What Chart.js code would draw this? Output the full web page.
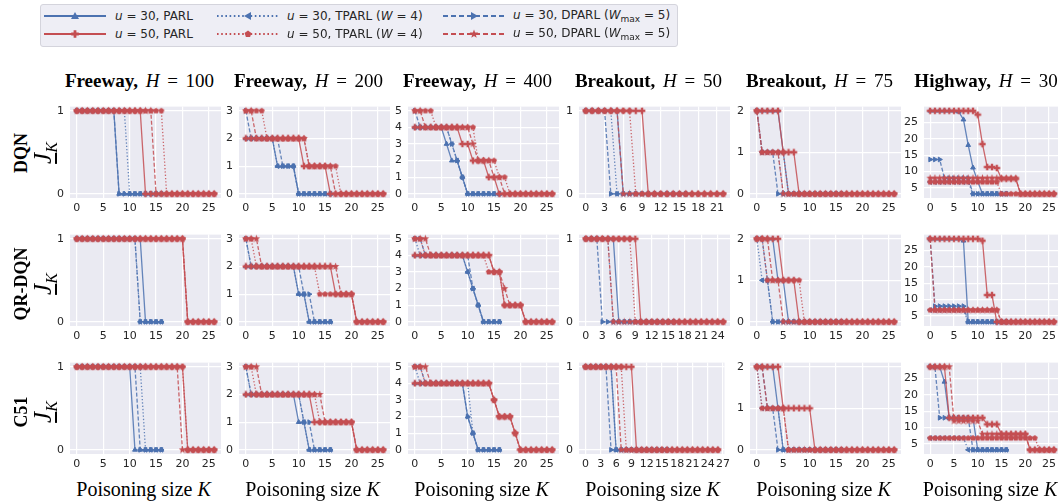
<!DOCTYPE html>
<html>
<head>
<meta charset="utf-8">
<script src="https://cdn.jsdelivr.net/npm/chart.js@4.4.1/dist/chart.umd.min.js"></script>
<style>
  body { margin: 0; background: #fff; }
  #fig { position: relative; width: 1058px; height: 501px; overflow: hidden; }
  #fig canvas { position: absolute; }
  .title, .xlabel { position: absolute; font-family: "Liberation Serif", serif; color: #000; white-space: nowrap; transform: translateX(-50%); }
  .title { top: 70px; font-size: 19px; word-spacing: 3px; }
  .title b { font-weight: bold; }
  .xlabel { top: 478px; font-size: 20px; }
  .rowlab { position: absolute; font-family: "Liberation Serif", serif; white-space: nowrap; transform: translate(-50%, -50%) rotate(-90deg); }
  .rowlab.alg { font-size: 18px; font-weight: bold; }
  .rowlab.jk { font-size: 25px; font-style: italic; }
  .rowlab.jk sub { font-size: 16px; }
  .legend { position: absolute; left: 40px; top: 4px; width: 636px; height: 41px; border: 1px solid #d4d4dc; border-radius: 3px; background: #eeeef5; }
  .legend .item { position: absolute; font-family: "DejaVu Sans", sans-serif; font-size: 12px; color: #262626; white-space: nowrap; transform: translateY(-50%); }
  .legend svg { position: absolute; }
  .legend sub { font-size: 9px; }
</style>
</head>
<body>
<div id="fig"></div>
<script>
// row / column categories
const algorithms = ["DQN", "QR-DQN", "C51"];
const games = ["Freeway", "Freeway", "Freeway", "Breakout", "Breakout", "Highway"];
const horizons = [100, 200, 400, 50, 75, 30];
const seriesLabels = [
  "u = 30, PARL", "u = 30, TPARL (W = 4)", "u = 30, DPARL (Wmax = 5)",
  "u = 50, PARL", "u = 50, TPARL (W = 4)", "u = 50, DPARL (Wmax = 5)"
];

// tick labels
const xTicksK = [0, 5, 10, 15, 20, 25];
const xTicksBo50Dqn = [0, 3, 6, 9, 12, 15, 18, 21];
const xTicksBo50Qr = [0, 3, 6, 9, 12, 15, 18, 21, 24];
const xTicksBo50C51 = [0, 3, 6, 9, 12, 15, 18, 21, 24, 27];
const yTicksFw100 = [0, 1];
const yTicksFw200 = [0, 1, 2, 3];
const yTicksFw400 = [0, 1, 2, 3, 4, 5];
const yTicksBo50 = [0, 1];
const yTicksBo75 = [0, 1, 2];
const yTicksHw = [5, 10, 15, 20, 25];

// J_K against poisoning size K = 0,1,2,...
// order in every panel: u30 PARL, u30 TPARL, u30 DPARL, u50 PARL, u50 TPARL, u50 DPARL
const dqnFw100 = [
  [1,1,1,1,1,1,1,1,0,0,0,0,0,0,0,0,0],
  [1,1,1,1,1,1,1,1,1,1,0,0,0,0,0,0,0],
  [1,1,1,1,1,1,1,1,0,0,0,0,0,0,0,0,0],
  [1,1,1,1,1,1,1,1,1,1,1,1,1,0,0,0,0,0,0,0,0,0,0,0,0,0,0],
  [1,1,1,1,1,1,1,1,1,1,1,1,1,1,1,1,1,0,0,0,0,0,0,0,0,0,0],
  [1,1,1,1,1,1,1,1,1,1,1,1,1,1,1,0,0,0,0,0,0,0,0,0,0,0,0]
];
const dqnFw200 = [
  [2,2,2,2,2,2,1,1,1,1,0,0,0,0,0,0,0],
  [2,2,2,2,2,2,1,1,1,1,0,0,0,0,0,0,0],
  [3,2,2,2,2,2,2,1,1,1,0,0,0,0,0,0,0],
  [2,2,2,2,2,2,2,2,2,2,2,1,1,1,1,1,0,0,0,0,0,0,0,0,0,0,0],
  [3,3,3,3,2,2,2,2,2,2,2,2,1,1,1,1,1,1,0,0,0,0,0,0,0,0,0],
  [3,3,2,2,2,2,2,2,2,2,2,2,1,1,1,1,1,0,0,0,0,0,0,0,0,0,0]
];
const dqnFw400 = [
  [4,4,4,4,4,4,3,2,2,1,0,0,0,0,0,0,0],
  [4,4,4,4,4,4,4,3,2,1,0,0,0,0,0,0,0],
  [5,4,4,4,4,4,4,3,2,1,0,0,0,0,0,0,0],
  [4,4,4,4,4,4,4,4,4,3,3,2,2,2,1,1,0,0,0,0,0,0,0,0,0,0,0],
  [5,5,5,5,4,4,4,4,4,4,4,4,2,2,2,2,1,1,0,0,0,0,0,0,0,0,0],
  [5,5,4,4,4,4,4,4,4,4,4,3,2,2,2,1,1,0,0,0,0,0,0,0,0,0,0]
];
const dqnBo50 = [
  [1,1,1,1,1,1,0,0,0,0,0,0,0,0,0,0,0],
  [1,1,1,1,1,0,0,0,0,0,0,0,0,0,0,0,0],
  [1,1,1,1,0,0,0,0,0,0,0,0,0,0,0,0,0],
  [1,1,1,1,1,1,1,1,1,1,0,0,0,0,0,0,0,0,0,0,0,0,0],
  [1,1,1,1,1,1,1,1,0,0,0,0,0,0,0,0,0,0,0,0,0,0,0],
  [1,1,1,1,1,1,0,0,0,0,0,0,0,0,0,0,0,0,0,0,0,0,0]
];
const dqnBo75 = [
  [2,2,2,2,2,1,0,0,0,0,0,0,0,0,0,0,0],
  [2,1,1,1,1,0,0,0,0,0,0,0,0,0,0,0,0],
  [2,1,1,1,0,0,0,0,0,0,0,0,0,0,0,0,0],
  [2,2,2,2,2,1,1,1,0,0,0,0,0,0,0,0,0,0,0,0,0,0,0,0,0,0,0],
  [2,1,1,1,1,1,0,0,0,0,0,0,0,0,0,0,0,0,0,0,0,0,0,0,0,0,0],
  [2,1,1,1,1,0,0,0,0,0,0,0,0,0,0,0,0,0,0,0,0,0,0,0,0,0,0]
];
const dqnHw = [
  [28.6,28.6,28.6,28.6,28.6,28.6,28.3,25.9,18.1,11.2,7,3.2,3.2,3.2,3.2,3.2,3.2],
  [6.8,6.8,6.8,6.8,6.8,6.8,6.8,6.8,6.8,3.2,3.2,3.2,3.2,3.2,3.2,3.2,3.2],
  [13.7,13.7,13.7,8,8,8,8,8,8,3.2,3.2,3.2,3.2,3.2,3.2,3.2,3.2],
  [28.6,28.6,28.6,28.6,28.6,28.6,28.6,28.6,28.6,28.6,27.4,18.4,11.4,11.4,11.1,7.8,7.8,7.8,7.8,3.2,3.2,3.2,3.2,3.2,3.2,3.2,3.2],
  [6.8,6.8,6.8,6.8,6.8,6.8,6.8,6.8,6.8,6.8,6.8,6.8,6.8,6.8,6.8,3.2,3.2,3.2,3.2,3.2,3.2,3.2,3.2,3.2,3.2,3.2,3.2],
  [8,8,8,8,8,8,8,8,8,8,8,8,8,8,8,8,8,8,8,3.2,3.2,3.2,3.2,3.2,3.2,3.2,3.2]
];

const qrFw100 = [
  [1,1,1,1,1,1,1,1,1,1,1,1,1,0,0,0,0],
  [1,1,1,1,1,1,1,1,1,1,1,1,0,0,0,0,0],
  [1,1,1,1,1,1,1,1,1,1,1,1,0,0,0,0,0],
  [1,1,1,1,1,1,1,1,1,1,1,1,1,1,1,1,1,1,1,1,1,0,0,0,0,0,0],
  [1,1,1,1,1,1,1,1,1,1,1,1,1,1,1,1,1,1,1,1,1,0,0,0,0,0,0],
  [1,1,1,1,1,1,1,1,1,1,1,1,1,1,1,1,1,1,1,1,1,0,0,0,0,0,0]
];
const qrFw200 = [
  [2,2,2,2,2,2,2,2,2,2,1,1,0,0,0,0,0],
  [3,2,2,2,2,2,2,2,2,2,1,1,0,0,0,0,0],
  [3,2,2,2,2,2,2,2,2,2,2,1,1,0,0,0,0],
  [2,2,2,2,2,2,2,2,2,2,2,2,2,2,2,2,2,1,1,1,1,0,0,0,0,0,0],
  [3,3,2,2,2,2,2,2,2,2,2,2,2,2,1,1,1,1,1,1,1,0,0,0,0,0,0],
  [3,3,3,2,2,2,2,2,2,2,2,2,2,2,2,2,2,2,1,1,1,0,0,0,0,0,0]
];
const qrFw400 = [
  [4,4,4,4,4,4,4,4,4,4,3,2,1,0,0,0,0],
  [5,4,4,4,4,4,4,4,4,4,3,2,1,0,0,0,0],
  [5,5,4,4,4,4,4,4,4,4,4,2,1,0,0,0,0],
  [4,4,4,4,4,4,4,4,4,4,4,4,4,4,4,3,3,1,1,1,1,0,0,0,0,0,0],
  [5,5,4,4,4,4,4,4,4,4,4,4,4,4,3,3,3,1,1,1,1,0,0,0,0,0,0],
  [5,5,5,4,4,4,4,4,4,4,4,4,4,4,4,3,3,2,1,1,1,0,0,0,0,0,0]
];
const qrBo50 = [
  [1,1,1,1,1,1,0,0,0,0,0,0,0,0,0,0,0],
  [1,1,1,1,1,0,0,0,0,0,0,0,0,0,0,0,0],
  [1,1,1,0,0,0,0,0,0,0,0,0,0,0,0,0,0],
  [1,1,1,1,1,1,1,1,1,1,0,0,0,0,0,0,0,0,0,0,0,0,0,0,0,0],
  [1,1,1,1,1,1,1,1,1,0,0,0,0,0,0,0,0,0,0,0,0,0,0,0,0,0],
  [1,1,1,1,1,0,0,0,0,0,0,0,0,0,0,0,0,0,0,0,0,0,0,0,0,0]
];
const qrBo75 = [
  [2,2,2,2,1,1,0,0,0,0,0,0,0,0,0,0,0],
  [2,1,1,0,0,0,0,0,0,0,0,0,0,0,0,0,0],
  [2,2,1,0,0,0,0,0,0,0,0,0,0,0,0,0,0],
  [2,2,2,2,2,1,1,1,0,0,0,0,0,0,0,0,0,0,0,0,0,0,0,0,0,0,0],
  [2,2,1,1,1,1,1,1,1,0,0,0,0,0,0,0,0,0,0,0,0,0,0,0,0,0,0],
  [2,2,2,1,1,0,0,0,0,0,0,0,0,0,0,0,0,0,0,0,0,0,0,0,0,0,0]
];
const qrHw = [
  [28.6,28.6,28.6,28.6,28.6,28.6,28.6,28,3.2,3.2,3.2,3.2,3.2,3.2,3.2,3.2,3.2],
  [6.8,6.8,6.8,6.8,6.8,6.8,6.8,6.8,3.2,3.2,3.2,3.2,3.2,3.2,3.2,3.2,3.2],
  [28.6,8,8,8,8,8,8,8,3.2,3.2,3.2,3.2,3.2,3.2,3.2,3.2,3.2],
  [28.6,28.6,28.6,28.6,28.6,28.6,28.6,28.6,28.6,28.6,28.6,28,11.4,11.4,3.2,3.2,3.2,3.2,3.2,3.2,3.2,3.2,3.2,3.2,3.2,3.2,3.2],
  [6.8,6.8,6.8,6.8,6.8,6.8,6.8,6.8,6.8,6.8,6.8,6.8,6.8,6.8,6.8,3.2,3.2,3.2,3.2,3.2,3.2,3.2,3.2,3.2,3.2,3.2,3.2],
  [28.6,6.8,6.8,6.8,6.8,6.8,6.8,6.8,6.8,6.8,6.8,6.8,6.8,6.8,6.8,3.2,3.2,3.2,3.2,3.2,3.2,3.2,3.2,3.2,3.2,3.2,3.2]
];

const c51Fw100 = [
  [1,1,1,1,1,1,1,1,1,1,1,0,0,0,0,0,0],
  [1,1,1,1,1,1,1,1,1,1,1,1,1,0,0,0,0],
  [1,1,1,1,1,1,1,1,1,1,1,1,0,0,0,0,0],
  [1,1,1,1,1,1,1,1,1,1,1,1,1,1,1,1,1,1,1,1,1,0,0,0,0,0,0],
  [1,1,1,1,1,1,1,1,1,1,1,1,1,1,1,1,1,1,1,1,1,0,0,0,0,0,0],
  [1,1,1,1,1,1,1,1,1,1,1,1,1,1,1,1,1,1,1,1,0,0,0,0,0,0,0]
];
const c51Fw200 = [
  [2,2,2,2,2,2,2,2,2,2,1,1,0,0,0,0,0],
  [3,2,2,2,2,2,2,2,2,2,2,1,0,0,0,0,0],
  [3,2,2,2,2,2,2,2,2,2,2,1,1,0,0,0,0],
  [2,2,2,2,2,2,2,2,2,2,2,2,2,1,1,1,1,1,1,1,1,0,0,0,0,0,0],
  [3,3,2,2,2,2,2,2,2,2,2,2,2,2,1,1,1,1,1,1,1,0,0,0,0,0,0],
  [3,3,3,2,2,2,2,2,2,2,2,2,2,2,2,1,1,1,1,1,1,0,0,0,0,0,0]
];
const c51Fw400 = [
  [4,4,4,4,4,4,4,4,4,4,2,1,0,0,0,0,0],
  [5,4,4,4,4,4,4,4,4,4,4,1,0,0,0,0,0],
  [5,5,4,4,4,4,4,4,4,4,2,1,0,0,0,0,0],
  [4,4,4,4,4,4,4,4,4,4,4,4,4,4,4,3,2,2,2,1,0,0,0,0,0,0,0],
  [5,5,4,4,4,4,4,4,4,4,4,4,4,4,4,3,2,2,2,1,0,0,0,0,0,0,0],
  [5,5,5,4,4,4,4,4,4,4,4,4,4,4,4,3,2,2,2,1,0,0,0,0,0,0,0]
];
const c51Bo50 = [
  [1,1,1,1,1,1,0,0,0,0,0,0,0,0,0,0,0],
  [1,1,1,1,1,1,0,0,0,0,0,0,0,0,0,0,0],
  [1,1,1,1,1,0,0,0,0,0,0,0,0,0,0,0,0],
  [1,1,1,1,1,1,1,1,1,1,0,0,0,0,0,0,0,0,0,0,0,0,0,0,0,0,0],
  [1,1,1,1,1,1,1,1,0,0,0,0,0,0,0,0,0,0,0,0,0,0,0,0,0,0,0],
  [1,1,1,1,1,1,1,0,0,0,0,0,0,0,0,0,0,0,0,0,0,0,0,0,0,0,0]
];
const c51Bo75 = [
  [2,2,2,2,1,0,0,0,0,0,0,0,0,0,0,0,0],
  [2,1,1,1,1,0,0,0,0,0,0,0,0,0,0,0,0],
  [2,2,1,1,0,0,0,0,0,0,0,0,0,0,0,0,0],
  [2,2,2,2,2,1,1,1,1,1,1,0,0,0,0,0,0,0,0,0,0,0,0,0,0,0,0],
  [2,1,1,1,1,1,0,0,0,0,0,0,0,0,0,0,0,0,0,0,0,0,0,0,0,0,0],
  [2,2,1,1,1,1,0,0,0,0,0,0,0,0,0,0,0,0,0,0,0,0,0,0,0,0,0]
];
const c51Hw = [
  [28.6,28.6,28.6,24,13,13,13,13,13,13,3.2,3.2,3.2,3.2,3.2,3.2,3.2],
  [6.8,6.8,6.8,6.8,6.8,6.8,6.8,6.8,3.2,3.2,3.2,3.2,3.2,3.2,3.2,3.2,3.2],
  [28.6,28.6,13,13,13,13,13,13,13,3.2,3.2,3.2,3.2,3.2,3.2,3.2,3.2],
  [28.6,28.6,28.6,28.6,13,13,13,13,13,13,13,13,11,11,11,8,8,8,8,8,8,3.2,3.2,3.2,3.2,3.2,3.2],
  [6.8,6.8,6.8,6.8,6.8,6.8,6.8,6.8,6.8,6.8,6.8,6.8,6.8,6.8,6.8,6.8,6.8,6.8,6.8,6.8,6.8,6.8,6.8,3.2,3.2,3.2,3.2],
  [28.6,28.6,28.6,28.6,28.6,12,12,12,12,12,12,8,8,8,8,8,8,8,8,8,8,3.2,3.2,3.2,3.2,3.2,3.2]
];

const panelValues = [
  [dqnFw100, dqnFw200, dqnFw400, dqnBo50, dqnBo75, dqnHw],
  [qrFw100, qrFw200, qrFw400, qrBo50, qrBo75, qrHw],
  [c51Fw100, c51Fw200, c51Fw400, c51Bo50, c51Bo75, c51Hw]
];
const panelXTicks = [
  [xTicksK, xTicksK, xTicksK, xTicksBo50Dqn, xTicksK, xTicksK],
  [xTicksK, xTicksK, xTicksK, xTicksBo50Qr, xTicksK, xTicksK],
  [xTicksK, xTicksK, xTicksK, xTicksBo50C51, xTicksK, xTicksK]
];
const colYTicks = [yTicksFw100, yTicksFw200, yTicksFw400, yTicksBo50, yTicksBo75, yTicksHw];

// ---- layout & style ----
const BLUE = "#4c72b0";
const RED = "#c44e52";
const colLeft = [70, 239, 408, 579, 750, 924];
const colWidth = [151, 151, 151, 151, 151, 136];
const rowTop = [99, 227, 355];
const PLOT_H = 99;
const PAD_L = 34, PAD_T = 5, PAD_R = 4, PAD_B = 22;

// small filled markers (plus, pentagon, star) drawn once on little canvases
function polygonMarker(color, pts, size) {
  const c = document.createElement("canvas");
  c.width = c.height = size;
  const ctx = c.getContext("2d");
  ctx.fillStyle = color;
  ctx.beginPath();
  pts.forEach((p, i) => i ? ctx.lineTo(size / 2 + p[0], size / 2 + p[1]) : ctx.moveTo(size / 2 + p[0], size / 2 + p[1]));
  ctx.closePath();
  ctx.fill();
  return c;
}
function starPts(n, ro, ri) {
  const pts = [];
  for (let k = 0; k < n * 2; k++) {
    const a = -Math.PI / 2 + k * Math.PI / n;
    const r = ri ? (k % 2 ? ri : ro) : ro;
    pts.push([r * Math.cos(a), r * Math.sin(a)]);
  }
  return pts;
}
const plusPts = [[-1.2,-3.3],[1.2,-3.3],[1.2,-1.2],[3.3,-1.2],[3.3,1.2],[1.2,1.2],[1.2,3.3],[-1.2,3.3],[-1.2,1.2],[-3.3,1.2],[-3.3,-1.2],[-1.2,-1.2]];
const pentPts = starPts(5, 3.1, 0).filter((p, k) => k % 2 === 0);
const markPlus = polygonMarker(RED, plusPts, 8);
const markPent = polygonMarker(RED, pentPts, 8);
const markStar = polygonMarker(RED, starPts(5, 3.9, 1.7), 9);

const seriesStyle = [
  { color: BLUE, line: "rgba(76,114,176,0.85)", dash: [], point: "triangle", rot: 0, r: 2.7 },
  { color: BLUE, line: "rgba(76,114,176,0.85)", dash: [1.3, 2], point: "triangle", rot: -90, r: 2.7 },
  { color: BLUE, line: "rgba(76,114,176,0.85)", dash: [4, 2], point: "triangle", rot: 90, r: 2.7 },
  { color: RED, line: "rgba(196,78,82,0.85)", dash: [], point: markPlus, rot: 0, r: 3, pts: plusPts },
  { color: RED, line: "rgba(196,78,82,0.85)", dash: [1.3, 2], point: markPent, rot: 0, r: 3, pts: pentPts },
  { color: RED, line: "rgba(196,78,82,0.85)", dash: [4, 2], point: markStar, rot: 0, r: 3, pts: starPts(5, 3.9, 1.7) }
];

const plotBg = {
  id: "plotBg",
  beforeDraw(chart) {
    const { ctx, chartArea: a } = chart;
    ctx.save();
    ctx.fillStyle = "#eaeaf2";
    ctx.fillRect(a.left, a.top, a.right - a.left, a.bottom - a.top);
    ctx.restore();
  }
};

const fig = document.getElementById("fig");

function makePanel(row, col) {
  const values = panelValues[row][col];
  const xt = panelXTicks[row][col];
  const yt = colYTicks[col];
  const kMax = Math.max(...values.map(s => s.length - 1));
  const all = values.flat();
  const lo = Math.min(...all), hi = Math.max(...all);
  const ym = (hi - lo) * 0.05;

  const canvas = document.createElement("canvas");
  canvas.width = colWidth[col] + PAD_L + PAD_R;
  canvas.height = PLOT_H + PAD_T + PAD_B;
  canvas.style.left = (colLeft[col] - PAD_L) + "px";
  canvas.style.top = (rowTop[row] - PAD_T) + "px";
  fig.appendChild(canvas);

  const datasets = values.map((s, i) => {
    const st = seriesStyle[i];
    return {
      label: seriesLabels[i],
      data: s.map((v, k) => ({ x: k, y: v })),
      borderColor: st.line,
      borderWidth: 1.3,
      borderDash: st.dash,
      pointStyle: st.point,
      pointRotation: st.rot,
      pointRadius: st.r,
      pointBorderWidth: 1,
      pointBackgroundColor: st.color,
      pointBorderColor: st.color,
      tension: 0,
      fill: false,
      clip: false,
      order: i < 3 ? 1 : 0
    };
  });

  const tickFont = { family: "DejaVu Sans", size: 11 };
  new Chart(canvas, {
    type: "line",
    data: { datasets },
    options: {
      responsive: false,
      animation: false,
      events: [],
      layout: { padding: { top: PAD_T, right: PAD_R, left: 0, bottom: 0 }, autoPadding: false },
      plugins: { legend: { display: false }, tooltip: { enabled: false } },
      scales: {
        x: {
          type: "linear",
          min: -0.05 * kMax,
          max: 1.05 * kMax,
          afterBuildTicks: s => { s.ticks = xt.map(v => ({ value: v })); },
          afterFit: s => { s.height = PAD_B; },
          grid: { color: "#ffffff", lineWidth: 1.2, drawTicks: false },
          border: { display: false },
          ticks: { padding: 4, color: "#262626", font: tickFont, maxRotation: 0, autoSkip: false, callback: v => String(v) }
        },
        y: {
          type: "linear",
          min: lo - ym,
          max: hi + ym,
          afterBuildTicks: s => { s.ticks = yt.map(v => ({ value: v })); },
          afterFit: s => { s.width = PAD_L; },
          grid: { color: "#ffffff", lineWidth: 1.2, drawTicks: false },
          border: { display: false },
          ticks: { padding: 6, color: "#262626", font: tickFont, autoSkip: false, callback: v => String(v) }
        }
      }
    },
    plugins: [plotBg]
  });
}

for (let r = 0; r < 3; r++) {
  for (let c = 0; c < 6; c++) makePanel(r, c);
}

// column titles and x labels
games.forEach((g, c) => {
  const t = document.createElement("div");
  t.className = "title";
  t.style.left = (colLeft[c] + colWidth[c] / 2 - 6) + "px";
  t.innerHTML = "<b>" + g + ",</b> <i>H</i> = " + horizons[c];
  fig.appendChild(t);

  const xl = document.createElement("div");
  xl.className = "xlabel";
  xl.style.left = (colLeft[c] + colWidth[c] / 2 - 2) + "px";
  xl.innerHTML = "Poisoning size <i>K</i>";
  fig.appendChild(xl);
});

// row labels
const rowLabelY = [153, 284, 412];
algorithms.forEach((a, r) => {
  const al = document.createElement("div");
  al.className = "rowlab alg";
  al.style.left = "21px";
  al.style.top = rowLabelY[r] + "px";
  al.textContent = a;
  fig.appendChild(al);

  const jk = document.createElement("div");
  jk.className = "rowlab jk";
  jk.style.left = "45px";
  jk.style.top = rowLabelY[r] + "px";
  jk.innerHTML = '<span style="text-decoration: underline; text-decoration-thickness: 1.5px; text-underline-offset: 4px;">J</span><sub>K</sub>';
  fig.appendChild(jk);
});

// legend
const legend = document.createElement("div");
legend.className = "legend";
fig.appendChild(legend);
const legendText = [
  "<i>u</i> = 30, PARL", "<i>u</i> = 30, TPARL (<i>W</i> = 4)", "<i>u</i> = 30, DPARL (<i>W</i><sub>max</sub> = 5)",
  "<i>u</i> = 50, PARL", "<i>u</i> = 50, TPARL (<i>W</i> = 4)", "<i>u</i> = 50, DPARL (<i>W</i><sub>max</sub> = 5)"
];
const legSampleX = [3, 176, 402];
const legTextX = [74, 246, 472];
const legRowY = [11, 29];

function markerSvg(i, cx, cy) {
  const st = seriesStyle[i];
  if (st.point === "triangle") {
    const pts = st.rot === 0 ? [[0, -4], [4, 3], [-4, 3]] : st.rot === 90 ? [[4, 0], [-3, 4], [-3, -4]] : [[-4, 0], [3, 4], [3, -4]];
    return '<polygon fill="' + st.color + '" points="' + pts.map(p => (cx + p[0]) + "," + (cy + p[1])).join(" ") + '"/>';
  }
  const k = 1.15;
  return '<polygon fill="' + st.color + '" points="' + st.pts.map(p => (cx + k * p[0]).toFixed(2) + "," + (cy + k * p[1]).toFixed(2)).join(" ") + '"/>';
}

seriesLabels.forEach((lab, i) => {
  const col = i % 3, row = Math.floor(i / 3);
  const st = seriesStyle[i];
  const svg = document.createElementNS("http://www.w3.org/2000/svg", "svg");
  svg.setAttribute("width", 64);
  svg.setAttribute("height", 12);
  svg.style.left = legSampleX[col] + "px";
  svg.style.top = (legRowY[row] - 6) + "px";
  const dash = st.dash.length ? ' stroke-dasharray="' + (st.dash[0] === 4 ? "5 3" : "1.6 2.6") + '"' : "";
  svg.innerHTML = '<line x1="0" y1="6" x2="62" y2="6" stroke="' + st.color + '" stroke-width="1.8"' + dash + "/>" + markerSvg(i, 31, 6);
  legend.appendChild(svg);

  const t = document.createElement("div");
  t.className = "item";
  t.style.left = legTextX[col] + "px";
  t.style.top = legRowY[row] + "px";
  t.innerHTML = legendText[i];
  legend.appendChild(t);
});
</script>
</body>
</html>
